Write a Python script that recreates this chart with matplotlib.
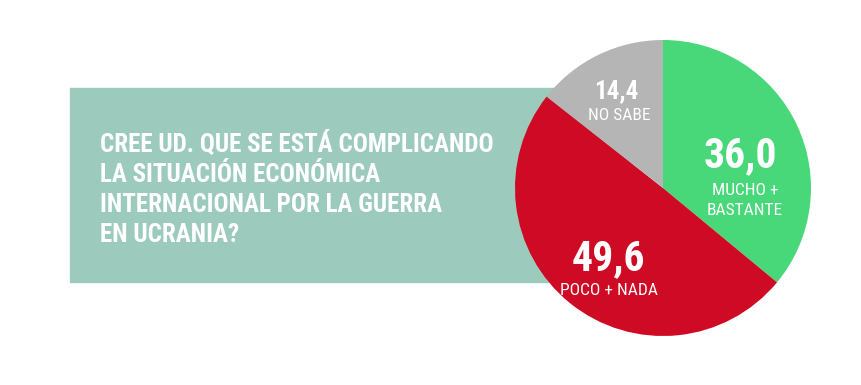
import matplotlib
matplotlib.use("Agg")
import matplotlib.pyplot as plt
from matplotlib import font_manager
from matplotlib.patches import Rectangle

# data
categories = ["MUCHO +\nBASTANTE", "POCO + NADA", "NO SABE"]
values = [36.0, 49.6, 14.4]
colors = ["#48d87a", "#cf0a24", "#b5b5b5"]
title_lines = [
    "CREE UD. QUE SE ESTÁ COMPLICANDO",
    "LA SITUACIÓN ECONÓMICA",
    "INTERNACIONAL POR LA GUERRA",
    "EN UCRANIA?",
]

# pick a condensed face that is installed
installed = {f.name for f in font_manager.fontManager.ttflist}
cond = [n for n in ["Roboto Condensed", "Asap Condensed", "Archivo Narrow",
                    "Liberation Sans Narrow"] if n in installed]
FONT = cond[:1] + ["DejaVu Sans"]

W, H = 862, 385

fig = plt.figure(figsize=(W / 100, H / 100), dpi=100)
ax = fig.add_axes([0, 0, 1, 1])

def y(img_y):
    # image pixel row -> data y
    return H - img_y

# teal box behind the question
ax.add_patch(Rectangle((70, y(282)), 560, 194, color="#9ccbbd", zorder=1))

for i, line in enumerate(title_lines):
    ax.text(100, y(152 + 30 * i), line, color="white", fontsize=18,
            fontweight="bold", family=FONT, ha="left", va="baseline", zorder=2)

# pie
ax.pie(values, colors=colors, startangle=90, counterclock=False,
       center=(663, y(188)), radius=148, frame=True,
       wedgeprops=dict(linewidth=0, zorder=3))
ax.set_xlim(0, W)
ax.set_ylim(0, H)
ax.set_aspect("equal")
ax.axis("off")

num_pos = [(740, 167, 30), (608, 270, 30), (616, 98, 18)]
lab_pos = [(745, 195, 12.5), (609, 295, 12.5), (619, 120, 12.5)]
for v, c, (nx, ny, ns), (lx, ly, ls) in zip(values, categories, num_pos, lab_pos):
    ax.text(nx, y(ny), f"{v:.1f}".replace(".", ","), color="white",
            fontsize=ns, fontweight="bold", family=FONT,
            ha="center", va="baseline", zorder=5)
    for k, part in enumerate(c.split("\n")):
        ax.text(lx, y(ly + 20 * k), part, color="white", fontsize=ls,
                family=FONT, ha="center", va="baseline", zorder=5)

fig.savefig("out.png", dpi=100)
